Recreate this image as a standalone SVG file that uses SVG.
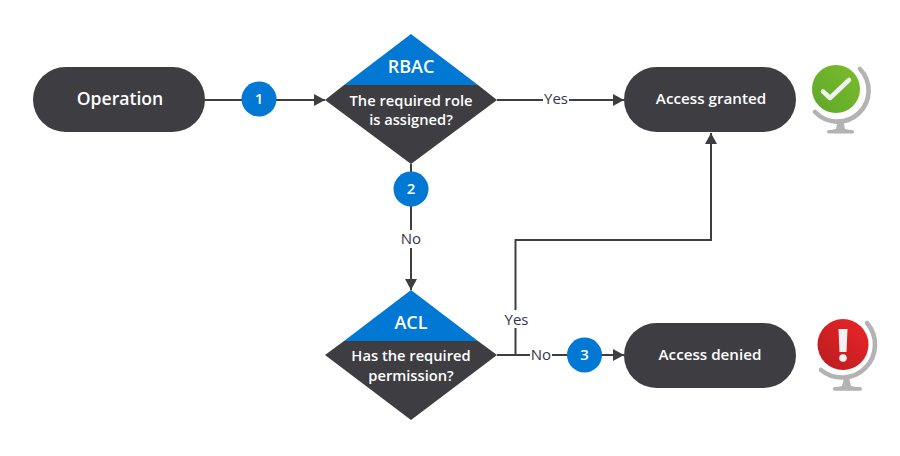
<svg xmlns="http://www.w3.org/2000/svg" width="900" height="456" viewBox="0 0 900 456">
<style>
text{font-family:"Open Sans","Noto Sans",sans-serif;text-anchor:middle}
.w{fill:#fff}
.d{fill:#3e3d42}
.b{fill:#0078d4}
.c{fill:none;stroke:#3e3d42;stroke-width:2}
.l{fill:#33364a;font-size:15px}
.t{fill:#fff;font-size:14.700px;font-weight:600}
.p{fill:#fff;font-size:15.200px;font-weight:600}
.n{fill:#fff;font-size:15px;font-weight:600}
.g{fill:none;stroke:#b3b3b3;stroke-width:4.600;stroke-linecap:round}
.gb{fill:#b3b3b3}
</style>
<defs>
<marker id="a" markerUnits="userSpaceOnUse" markerWidth="12" markerHeight="12" refX="11" refY="6" orient="auto"><path d="M0 0L11 6L0 12Z" fill="#3e3d42"/></marker>
<linearGradient id="gr" x1="0" y1="1" x2="1" y2="0"><stop offset="0" stop-color="#5da82a"/><stop offset="1" stop-color="#7cbc2c"/></linearGradient>
<linearGradient id="re" x1="0" y1="1" x2="1" y2="0"><stop offset="0" stop-color="#b81d1f"/><stop offset="1" stop-color="#ec2427"/></linearGradient>
</defs>
<g id="connectors">
<path class="c" d="M205 100H325" marker-end="url(#a)"/>
<path class="c" d="M497 100H624" marker-end="url(#a)"/>
<path class="c" d="M411 164V290" marker-end="url(#a)"/>
<path class="c" d="M515.500 355V240H711V133" marker-end="url(#a)"/>
<path class="c" d="M497 355H624" marker-end="url(#a)"/>
<rect x="543" y="90" width="26" height="18" fill="#fff"/>
<text class="l" x="556" y="104">Yes</text>
<rect x="400" y="230" width="22" height="18" fill="#fff"/>
<text class="l" x="411" y="244">No</text>
<rect x="503" y="310" width="26" height="18" fill="#fff"/>
<text class="l" x="516.500" y="325">Yes</text>
<rect x="530" y="346" width="22" height="18" fill="#fff"/>
<text class="l" x="541" y="360">No</text>
</g>
<g id="operation"><rect class="d" x="33" y="67" width="172" height="65" rx="32.500"/><text class="w" x="120" y="105" font-size="17.600" font-weight="600">Operation</text></g>
<g id="badge1"><circle class="b" cx="259" cy="99" r="17.500"/><text class="n" x="259" y="104">1</text></g>
<g id="badge2"><circle class="b" cx="411" cy="189" r="17.500"/><text class="n" x="411" y="194">2</text></g>
<g id="badge3"><circle class="b" cx="584.500" cy="355" r="17.500"/><text class="n" x="584.500" y="360">3</text></g>
<g id="rbac">
<path class="d" d="M325 100L344 85H478L497 100L411 164Z"/>
<path class="b" d="M411 34L478 85H344Z"/>
<text class="w" x="411" y="73" font-size="18" font-weight="600">RBAC</text>
<text class="t" x="411" y="106">The required role</text>
<text class="t" x="411" y="125">is assigned?</text>
</g>
<g id="acl">
<path class="d" d="M325 355L344 341H478L497 355L411 420Z"/>
<path class="b" d="M411 290L478 341H344Z"/>
<text class="w" x="411" y="329" font-size="18" font-weight="600">ACL</text>
<text class="t" x="411" y="361">Has the required</text>
<text class="t" x="411" y="381">permission?</text>
</g>
<g id="granted"><rect class="d" x="624" y="67" width="172" height="65" rx="32.500"/><text class="p" x="711" y="104">Access granted</text></g>
<g id="denied"><rect class="d" x="624" y="323" width="172" height="65" rx="32.500"/><text class="p" x="710" y="360">Access denied</text></g>
<g id="icon-ok">
<circle cx="836" cy="89" r="24" fill="url(#gr)"/>
<path d="M823 91.500L830 98L849 80" fill="none" stroke="#f2f2f2" stroke-width="4.500" stroke-linecap="round" stroke-linejoin="round"/>
<path class="g" d="M860 69A31 31 0 0 1 815 112"/>
<path class="gb" d="M838 119H843L845 129L850 130H831L836 129Z"/><rect class="gb" x="827" y="130" width="27" height="3.600" rx="1.800"/>
</g>
<g id="icon-err">
<circle cx="843" cy="344.500" r="25.500" fill="url(#re)"/>
<path d="M838.500 329H847.500L846.500 352H839.500Z" fill="#f2f2f2"/><circle cx="843" cy="358" r="3.800" fill="#f2f2f2"/>
<path class="g" d="M867 323A33 33 0 0 1 821 370"/>
<path class="gb" d="M844 378H849L851 386L856 387H837L842 386Z"/><rect class="gb" x="833" y="387" width="29" height="3.800" rx="1.900"/>
</g>
</svg>
